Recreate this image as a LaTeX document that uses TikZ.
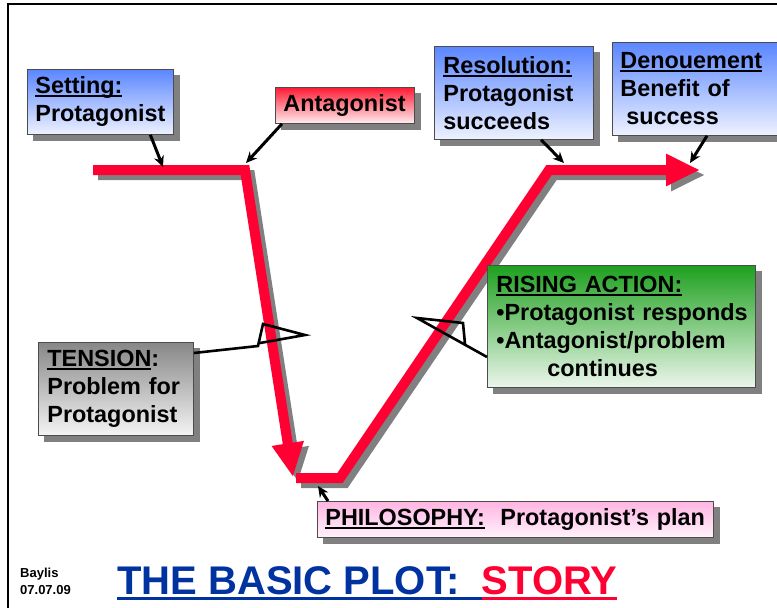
\documentclass[tikz,border=0pt]{standalone}
\usepackage{fontspec}
\setmainfont{Liberation Sans}
\usetikzlibrary{arrows.meta,calc,backgrounds}
\definecolor{plotred}{HTML}{FF0033}
\definecolor{shadowgray}{HTML}{808080}
\definecolor{titleblue}{HTML}{0033A0}
\definecolor{bluetop}{HTML}{5A86FF}
\definecolor{bluebot}{HTML}{EEF2FF}
\definecolor{redtop}{HTML}{FF1A33}
\definecolor{redbot}{HTML}{FFEEF0}
\definecolor{greentop}{HTML}{1EA01E}
\definecolor{greenbot}{HTML}{ECF6EC}
\definecolor{graytop}{HTML}{878787}
\definecolor{graybot}{HTML}{F4F4F4}
\definecolor{pinktop}{HTML}{FFB5E2}
\definecolor{pinkbot}{HTML}{FFF2FB}
\newcommand{\ulx}[1]{\setbox0\hbox{#1}\rlap{\rule[-3.5pt]{\wd0}{2.2pt}}\box0}
\newcommand{\ulT}[1]{\setbox0\hbox{#1}\rlap{\rule[-6pt]{\wd0}{3.2pt}}\box0}
\begin{document}
\begin{tikzpicture}[x=1pt,y=-1pt,
  lbl/.style={font=\fontsize{23.4}{28}\selectfont\bfseries, align=left,
    draw=black!70, line width=0.8pt, anchor=north west, inner ysep=0pt},
  plotline/.style={line width=10pt, line join=miter, draw=plotred},
  shadowline/.style={line width=10pt, line join=miter, draw=shadowgray},
  callarrow/.style={line width=3pt, -{Stealth[length=11pt,width=10pt]}},
  callline/.style={line width=2.6pt, line join=miter},
  boxshadow/.style={fill=shadowgray}]
\useasboundingbox (0,0) rectangle (777,608);

% plot line coordinates
\coordinate (a0) at (93,170);
\coordinate (a1) at (245,170);
\coordinate (a2) at (293,477);
\coordinate (b0) at (296,478);
\coordinate (b1) at (340,478);
\coordinate (b2) at (549,170);
\coordinate (b3) at (700,170);

% shadows of plot line
\begin{scope}[transform canvas={xshift=5pt,yshift=-5pt}]
  \draw[shadowline,-{Triangle[length=34pt,width=30pt]}] (a0) -- (a1) -- (a2);
  \draw[shadowline,-{Triangle[length=34pt,width=30pt]}] (b0) -- (b1) -- (b2) -- (b3);
\end{scope}
% plot line
\draw[plotline,-{Triangle[length=34pt,width=30pt]}] (a0) -- (a1) -- (a2);
\draw[plotline,-{Triangle[length=34pt,width=30pt]}] (b0) -- (b1) -- (b2) -- (b3);

% boxes
\node[lbl, top color=bluetop, bottom color=bluebot, inner xsep=8pt, text width=130pt, minimum height=65pt]
  (set) at (27,69) {\ulx{Setting:}\\Protagonist};
\node[lbl, top color=redtop, bottom color=redbot, inner xsep=8pt, text width=123pt, minimum height=36pt]
  (ant) at (275,87) {Antagonist};
\node[lbl, top color=bluetop, bottom color=bluebot, inner xsep=9pt, text width=141pt, minimum height=93pt]
  (res) at (434,46) {\ulx{Resolution:}\\Protagonist\\succeeds};
\node[lbl, top color=bluetop, bottom color=bluebot, inner xsep=8pt, text width=160pt, minimum height=93pt]
  (den) at (612,42) {\ulx{Denouement}\\Benefit of\\\hspace*{6pt}success};
\node[lbl, top color=greentop, bottom color=greenbot, inner xsep=9pt, text width=250pt, minimum height=122pt]
  (ris) at (487,265) {\ulx{RISING ACTION:}\\\mbox{\textbullet Protagonist responds}\\\mbox{\textbullet Antagonist/problem}\\\hspace*{51pt}continues};
\node[lbl, top color=graytop, bottom color=graybot, inner xsep=9pt, text width=137pt, minimum height=93pt]
  (ten) at (38,342) {\ulx{TENSION}:\\Problem for\\Protagonist};
\node[lbl, top color=pinktop, bottom color=pinkbot, inner xsep=8pt, text width=380pt, minimum height=36pt]
  (phi) at (317,501) {\ulx{PHILOSOPHY:}\ \ Protagonist’s plan};

% background: page, frame and box shadows
\begin{scope}[on background layer]
  \fill[white] (0,0) rectangle (777,608);
  \foreach \b in {set,ant,res,den,ris,ten,phi}{
    \fill[boxshadow] ([shift={(6,0)}]\b.south west) rectangle ([shift={(6,6)}]\b.south east);
    \fill[boxshadow] ([shift={(0,6)}]\b.north east) rectangle ([shift={(6,6)}]\b.south east);
  }
\end{scope}
\draw[line width=2pt] (8,615) -- (8,4) -- (785,4);

% arrow targets
\coordinate (tSet) at (163,167);
\coordinate (tAnt) at (246,163);
\coordinate (tRes) at (564,163);
\coordinate (tDen) at (690,163);
\coordinate (tPhi) at (318,486);

\draw[callarrow] ($(set.south west)!0.84!(set.south east)$) -- (tSet);
\draw[callarrow] ($(ant.south west)+(7,0)$) -- (tAnt);
\draw[callarrow] ($(res.south west)!0.67!(res.south east)$) -- (tRes);
\draw[callarrow] ($(den.south west)+(95,0)$) -- (tDen);
\draw[callarrow] ($(phi.north west)+(11,0)$) -- (tPhi);

% callout wedges
\coordinate (w1) at (258,346);
\coordinate (w2) at (263,324);
\coordinate (w3) at (305,335);
\coordinate (w4) at (260,343);
\draw[callline] ($(ten.north east)+(0,11)$) -- (w1) -- (w2) -- (w3) -- (w4);
\coordinate (r1) at (417,318);
\coordinate (r2) at (463,323);
\coordinate (r3) at (465,344);
\draw[callline] ($(ris.north west)+(0,92)$) -- (r1) -- (r2) -- (r3);

% title and author
\node[anchor=base west, inner sep=0pt, font=\fontsize{40}{44}\selectfont\bfseries]
  (title) at (117,594) {\color{titleblue}\ulT{THE BASIC PLOT:\ \ }\color{plotred}\ulT{STORY}};
\node[anchor=north west, inner sep=0pt, align=left, font=\fontsize{13}{16.5}\selectfont\bfseries]
  (author) at (20,568) {Baylis\\07.07.09};
\end{tikzpicture}
\end{document}
